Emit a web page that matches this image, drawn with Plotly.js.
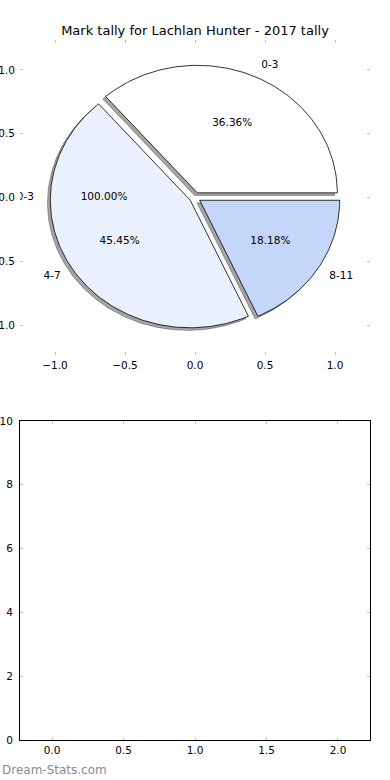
<!DOCTYPE html>
<html>
<head>
<meta charset="utf-8">
<script src="https://cdn.plot.ly/plotly-3.0.1.min.js"></script>
<style>html,body{margin:0;padding:0;background:#fff;}#chart{width:390px;height:780px;}</style>
</head>
<body>
<div id="chart"></div>
<script>
// ---- data ----
const labels = ['0-3', '4-7', '8-11'];
const values = [4, 5, 2];
const colors = ['#ffffff', '#eaf0fd', '#c4d7fb'];
const explode = [0.04, 0.04, 0.04];
const ghostLabels = ['0-3'];
const ghostValues = [1];
const ghostExplode = [0.05];
const pieXTicks = [-1, -0.5, 0, 0.5, 1];
const pieYTicks = [-1, -0.5, 0, 0.5, 1];
const barXTicks = [0, 0.5, 1, 1.5, 2];
const barYTicks = [0, 2, 4, 6, 8, 10];
const titleText = 'Mark tally for Lachlan Hunter - 2017 tally';
const watermark = 'Dream-Stats.com';

// ---- build ----
const FONT = 'DejaVu Sans, sans-serif';
const FS = 10.5;
function wedges(vals, exp) {
  const total = vals.reduce((a, b) => a + b, 0);
  let acc = 0;
  return vals.map((v, i) => {
    const t1 = acc / total * 360;
    acc += v;
    const t2 = acc / total * 360;
    const tm = (t1 + t2) / 2 * Math.PI / 180;
    const cx = exp[i] * Math.cos(tm), cy = exp[i] * Math.sin(tm);
    return {t1, t2, tm, cx, cy, frac: v / total, e: exp[i]};
  });
}
function wedgePath(w, dx, dy) {
  const xs = [w.cx + dx], ys = [w.cy + dy];
  const n = Math.max(2, Math.ceil((w.t2 - w.t1) / 1));
  for (let k = 0; k <= n; k++) {
    const a = (w.t1 + (w.t2 - w.t1) * k / n) * Math.PI / 180;
    xs.push(w.cx + dx + Math.cos(a));
    ys.push(w.cy + dy + Math.sin(a));
  }
  xs.push(w.cx + dx); ys.push(w.cy + dy);
  return {xs, ys};
}
const ws = wedges(values, explode);
const gws = wedges(ghostValues, ghostExplode);
const traces = [];
// shadows first
ws.forEach((w) => {
  const p = wedgePath(w, -0.02, -0.02);
  traces.push({type: 'scatter', mode: 'lines', x: p.xs, y: p.ys, fill: 'toself',
    fillcolor: 'rgba(77,77,77,0.5)', line: {color: 'rgba(77,77,77,0.5)', width: 1},
    hoverinfo: 'skip', showlegend: false, xaxis: 'x', yaxis: 'y'});
});
ws.forEach((w, i) => {
  const p = wedgePath(w, 0, 0);
  traces.push({type: 'scatter', mode: 'lines', x: p.xs, y: p.ys, fill: 'toself',
    fillcolor: colors[i], line: {color: '#000000', width: 0.8},
    hoverinfo: 'skip', showlegend: false, xaxis: 'x', yaxis: 'y'});
});
function addTexts(wl, labs) {
  wl.forEach((w, i) => {
    const lx = (w.e + 1.1) * Math.cos(w.tm), ly = (w.e + 1.1) * Math.sin(w.tm);
    const px = (w.e + 0.6) * Math.cos(w.tm), py = (w.e + 0.6) * Math.sin(w.tm);
    traces.push({type: 'scatter', mode: 'text', x: [lx], y: [ly], text: [labs[i]],
      textposition: lx > 0 ? 'middle right' : 'middle left',
      textfont: {family: FONT, size: FS, color: '#000'}, hoverinfo: 'skip', showlegend: false});
    traces.push({type: 'scatter', mode: 'text', x: [px], y: [py], text: [(w.frac * 100).toFixed(2) + '%'],
      textposition: 'middle center',
      textfont: {family: FONT, size: FS, color: '#000'}, hoverinfo: 'skip', showlegend: false});
  });
}
addTexts(gws, ghostLabels);
addTexts(ws, labels);
traces.push({type: 'scatter', mode: 'markers', x: [], y: [], xaxis: 'x2', yaxis: 'y2', showlegend: false});

const tickCommon = {ticks: 'inside', ticklen: 3, tickwidth: 1, tickcolor: '#c0c0c0',
  showgrid: false, zeroline: false, tickfont: {family: FONT, size: FS, color: '#000'}};
const layout = {
  width: 390, height: 780,
  margin: {l: 20, r: 20, t: 40, b: 40},
  paper_bgcolor: '#ffffff', plot_bgcolor: '#ffffff',
  showlegend: false,
  title: {text: titleText, x: 0.5, xanchor: 'center', xref: 'paper', y: 1 - 30 / 780, yref: 'container', yanchor: 'middle',
    font: {family: FONT, size: 13, color: '#000'}},
  xaxis: Object.assign({}, tickCommon, {domain: [0, 1], anchor: 'y', range: [-1.25, 1.25], ticklabelstandoff: 2,
    tickmode: 'array', tickvals: pieXTicks, tickformat: '.1f', showline: false, mirror: 'ticks'}),
  yaxis: Object.assign({}, tickCommon, {domain: [0.55, 1], anchor: 'x', range: [-1.235, 1.235], ticklabelstandoff: 4,
    tickmode: 'array', tickvals: pieYTicks, tickformat: '.1f', showline: false, mirror: 'ticks'}),
  xaxis2: Object.assign({}, tickCommon, {domain: [0, 1], anchor: 'y2', range: [-0.224, 2.224],
    tickmode: 'array', tickvals: barXTicks, tickformat: '.1f', showline: true, linecolor: '#000', linewidth: 1, mirror: 'ticks'}),
  yaxis2: Object.assign({}, tickCommon, {domain: [0, 319 / 700], anchor: 'x2', range: [0, 10], ticklabelstandoff: 4,
    tickmode: 'array', tickvals: barYTicks, tickformat: 'd', showline: true, linecolor: '#000', linewidth: 1, mirror: 'ticks'}),
  annotations: [{text: watermark, xref: 'paper', yref: 'paper', x: -20 / 350, y: (740 - 770) / 700,
    xanchor: 'left', yanchor: 'middle', showarrow: false,
    font: {family: FONT, size: 12, color: '#8a8a8a'}}]
};
Plotly.newPlot('chart', traces, layout, {staticPlot: true, displayModeBar: false});
</script>
</body>
</html>
